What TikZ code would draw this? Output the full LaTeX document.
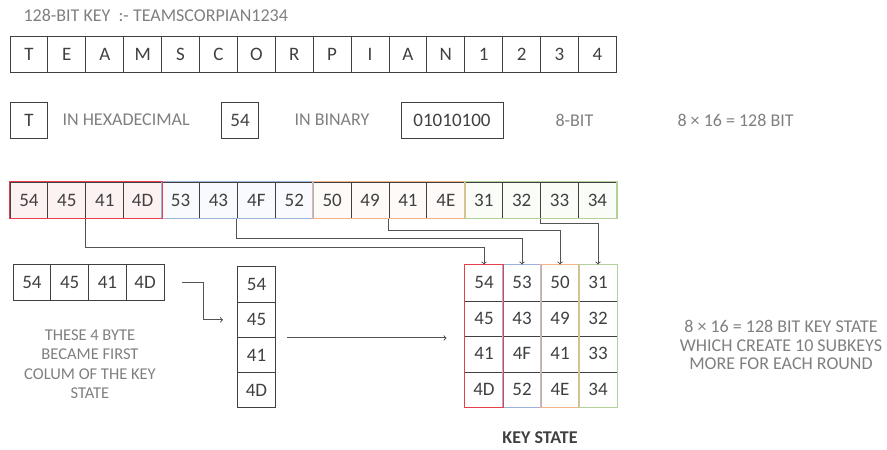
\documentclass[tikz,border=0pt]{standalone}
\usepackage{fontspec}
\setmainfont{Carlito}
\definecolor{ink}{HTML}{404040}
\definecolor{soft}{HTML}{7F7F7F}
\definecolor{grpred}{HTML}{E8404A}
\definecolor{grpblue}{HTML}{9DB3DC}
\definecolor{grporange}{HTML}{F4B48A}
\definecolor{grpgreen}{HTML}{B5D19A}
\begin{document}
\begin{tikzpicture}[x=1pt,y=-1pt,
  cell/.style={draw=ink,line width=1pt,minimum width=37.9pt,minimum height=36pt,inner sep=0pt,text=ink,font=\fontsize{19}{22}\selectfont},
  lbl/.style={text=soft,font=\fontsize{18}{20}\selectfont,align=center},
  conn/.style={draw=ink!90,line width=1pt}]
\useasboundingbox (0,0) rectangle (887,450);

\node[lbl,anchor=west] (title) at (20,15) {128-BIT KEY \ :- TEAMSCORPIAN1234};

\foreach \c [count=\i from 0] in {T,E,A,M,S,C,O,R,P,I,A,N,1,2,3,4}
  \node[cell] (key\i) at (28.95+37.9*\i,54.5) {\c};

\node[cell] (chr) at (29,120) {T};
\node[lbl,anchor=west] (hexlbl) at (59,120) {IN HEXADECIMAL};
\node[cell] (hexval) at (240,120) {54};
\node[lbl,anchor=west] (binlbl) at (291,120) {IN BINARY};
\node[cell,minimum width=102pt] (binval) at (452,120) {01010100};
\node[lbl,anchor=west] (bitlbl) at (552,120) {8-BIT};
\node[lbl,anchor=west] (sizelbl) at (674,120) {8 × 16 = 128 BIT};

\foreach \v/\g [count=\i from 0] in {54/grpred,45/grpred,41/grpred,4D/grpred,53/grpblue,43/grpblue,4F/grpblue,52/grpblue,50/grporange,49/grporange,41/grporange,4E/grporange,31/grpgreen,32/grpgreen,33/grpgreen,34/grpgreen}
  \node[cell,fill=\g!7] (hex\i) at (28.95+37.9*\i,200) {\v};
\foreach \a/\b/\g in {4/7/grpblue,8/11/grporange,12/15/grpgreen,0/3/grpred}
  \draw[\g,line width=1.2pt] (hex\a.north west) rectangle (hex\b.south east);

\foreach \v [count=\i from 0] in {54,45,41,4D}
  \node[cell,minimum width=37.75pt] (first\i) at (31.9+37.75*\i,282) {\v};
\node[lbl,font=\fontsize{16.5}{19.5}\selectfont] (note) at (90,364) {THESE 4 BYTE\\BECAME FIRST\\COLUM OF THE KEY\\STATE};

\foreach \v [count=\r from 0] in {54,45,41,4D}
  \node[cell,minimum height=35.25pt] (col\r) at (256.5,284.6+35.25*\r) {\v};

\foreach \vals/\g [count=\c from 0] in {{54,45,41,4D}/grpred,{53,43,4F,52}/grpblue,{50,49,41,4E}/grporange,{31,32,33,34}/grpgreen}
  \foreach \v [count=\r from 0] in \vals
    \node[cell,draw=none,minimum height=35.5pt] (st\r\c) at (484+38*\c,282.75+35.5*\r) {\v};
\foreach \r in {0,1,2}
  \draw[ink,line width=1pt] (st\r0.south west) -- (st\r3.south east);
\foreach \g [count=\c from 1] in {grpblue,grporange,grpgreen}
  \draw[\g,line width=1pt] (st0\c.north west) rectangle (st3\c.south east);
\draw[grpred,line width=1.8pt] (st00.north west) rectangle (st30.south east);
\node[text=ink,font=\bfseries\fontsize{18}{20}\selectfont] (keylbl) at (540,438) {KEY STATE};
\node[lbl,font=\fontsize{18}{18.5}\selectfont] (statenote) at (781,345) {8 × 16 = 128 BIT KEY STATE\\WHICH CREATE 10 SUBKEYS\\MORE FOR EACH ROUND};

\foreach \h/\c/\d in {2/0/29,6/1/20,10/2/12,14/3/5}
  \draw[conn,->] (hex\h.south west) -- ++(0,\d) -| (st0\c.north);

\coordinate (firstout) at ([xshift=17pt]first3.east);
\coordinate (colin) at ([xshift=-14pt]col1.west);
\draw[conn,->] (firstout) -- ++(22,0) |- (colin);

\coordinate (colout) at ([xshift=11pt]col1.south east);
\coordinate (statein) at ([xshift=-18pt]st10.south west);
\draw[conn,->] (colout) -- (colout -| statein);
\end{tikzpicture}
\end{document}
